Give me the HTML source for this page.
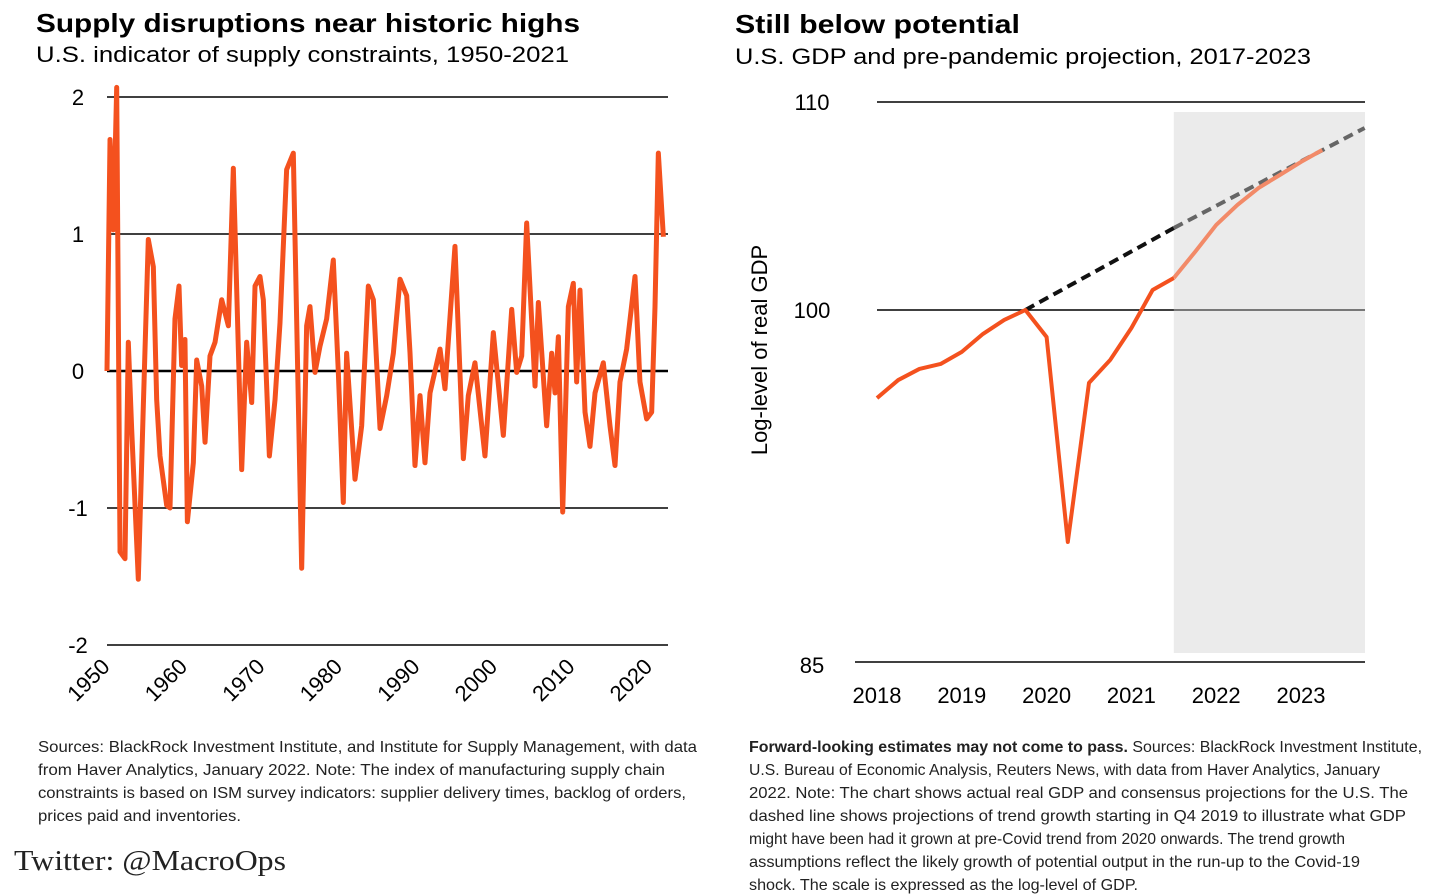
<!DOCTYPE html>
<html><head><meta charset="utf-8"><style>
html,body{margin:0;padding:0;background:#fff;}
svg{display:block;font-family:"Liberation Sans",sans-serif;}
</style></head><body>
<svg id="c" width="1434" height="896" viewBox="0 0 1434 896">
<text x="36" y="32" font-size="26" font-weight="bold" textLength="544" lengthAdjust="spacingAndGlyphs">Supply disruptions near historic highs</text>
<text x="36" y="62" font-size="22" textLength="533" lengthAdjust="spacingAndGlyphs">U.S. indicator of supply constraints, 1950-2021</text>
<text x="735" y="33" font-size="26" font-weight="bold" textLength="285" lengthAdjust="spacingAndGlyphs">Still below potential</text>
<text x="735" y="64" font-size="22" textLength="576" lengthAdjust="spacingAndGlyphs">U.S. GDP and pre-pandemic projection, 2017-2023</text>
<g id="left"></g>
<g id="right"></g>
<g font-size="16" fill="#222">
<text x="38" y="752" textLength="659" lengthAdjust="spacingAndGlyphs">Sources: BlackRock Investment Institute, and Institute for Supply Management, with data</text>
<text x="38" y="775" textLength="627" lengthAdjust="spacingAndGlyphs">from Haver Analytics, January 2022. Note: The index of manufacturing supply chain</text>
<text x="38" y="798" textLength="648" lengthAdjust="spacingAndGlyphs">constraints is based on ISM survey indicators: supplier delivery times, backlog of orders,</text>
<text x="38" y="821" textLength="203" lengthAdjust="spacingAndGlyphs">prices paid and inventories.</text>
</g>
<text x="14" y="870" font-family="Liberation Serif,serif" font-size="29" fill="#222" textLength="272" lengthAdjust="spacingAndGlyphs">Twitter: @MacroOps</text>
<g font-size="16" fill="#222">
<text x="749" y="752" textLength="673" lengthAdjust="spacingAndGlyphs"><tspan font-weight="bold">Forward-looking estimates may not come to pass.</tspan> Sources: BlackRock Investment Institute,</text>
<text x="749" y="775" textLength="631" lengthAdjust="spacingAndGlyphs">U.S. Bureau of Economic Analysis, Reuters News, with data from Haver Analytics, January</text>
<text x="749" y="798" textLength="659" lengthAdjust="spacingAndGlyphs">2022. Note: The chart shows actual real GDP and consensus projections for the U.S. The</text>
<text x="749" y="821" textLength="657" lengthAdjust="spacingAndGlyphs">dashed line shows projections of trend growth starting in Q4 2019 to illustrate what GDP</text>
<text x="749" y="844" textLength="596" lengthAdjust="spacingAndGlyphs">might have been had it grown at pre-Covid trend from 2020 onwards. The trend growth</text>
<text x="749" y="867" textLength="611" lengthAdjust="spacingAndGlyphs">assumptions reflect the likely growth of potential output in the run-up to the Covid-19</text>
<text x="749" y="890" textLength="389" lengthAdjust="spacingAndGlyphs">shock. The scale is expressed as the log-level of GDP.</text>
</g>
</svg>
<script>
const supplyYears=[1950,1950.39,1950.82,1951.25,1951.68,1952.32,1952.75,1953.18,1954.04,1954.69,1955.33,1955.98,1956.41,1956.84,1957.70,1958.13,1958.77,1959.29,1959.63,1960.06,1960.37,1961.14,1961.57,1962.22,1962.65,1963.29,1963.94,1964.80,1965.66,1966.30,1967.38,1968.02,1968.67,1969.10,1969.74,1970.17,1970.95,1971.68,1972.32,1973.18,1974.04,1975.12,1975.76,1976.19,1976.84,1977.48,1978.34,1979.20,1979.85,1980.49,1980.92,1982.0,1982.86,1983.72,1984.37,1985.23,1986.09,1986.95,1987.81,1988.67,1989.10,1989.74,1990.39,1991.03,1991.68,1992.97,1993.61,1994.90,1995.98,1996.62,1997.48,1998.77,1999.85,2001.14,2002.22,2002.86,2003.51,2004.15,2005.23,2005.66,2006.73,2007.38,2007.81,2008.24,2008.80,2009.53,2010.17,2010.60,2011.03,2011.68,2012.32,2012.97,2014.04,2014.90,2015.55,2016.19,2017.05,2018.13,2018.77,2019.63,2020.28,2020.71,2021.14,2021.79];
const supplyValues=[0,1.69,1.03,2.07,-1.32,-1.37,0.21,-0.42,-1.52,-0.25,0.96,0.76,-0.21,-0.62,-0.98,-1.0,0.38,0.62,0.04,0.23,-1.1,-0.67,0.08,-0.11,-0.52,0.11,0.21,0.52,0.33,1.48,-0.72,0.21,-0.23,0.62,0.69,0.52,-0.62,-0.21,0.35,1.47,1.59,-1.44,0.33,0.47,-0.01,0.18,0.38,0.81,-0.01,-0.96,0.13,-0.79,-0.40,0.62,0.52,-0.42,-0.18,0.13,0.67,0.55,0.13,-0.69,-0.18,-0.67,-0.16,0.16,-0.13,0.91,-0.64,-0.18,0.06,-0.62,0.28,-0.47,0.45,-0.01,0.11,1.08,-0.11,0.50,-0.40,0.13,-0.16,0.25,-1.03,0.47,0.64,-0.08,0.59,-0.30,-0.55,-0.16,0.06,-0.40,-0.69,-0.08,0.16,0.69,-0.08,-0.35,-0.30,0.47,1.59,0.98];
const leftYTicks=[2,1,0,-1,-2];
const leftXTicks=[1950,1960,1970,1980,1990,2000,2010,2020];

const gdpQuarters=[2018,2018.25,2018.5,2018.75,2019,2019.25,2019.5,2019.75,2020,2020.25,2020.5,2020.75,2021,2021.25,2021.5];
const gdpActual=[96.28,97.04,97.51,97.72,98.23,98.99,99.58,100,98.86,90.2,96.92,97.89,99.24,100.96,101.54];
const projQuarters=[2021.5,2021.75,2022,2022.25,2022.5,2022.75,2023,2023.25];
const gdpProjection=[101.54,102.79,104.09,105.05,105.87,106.49,107.12,107.69];
const trendYears=[2019.75,2021.5,2023.75];
const trendValues=[100,103.94,108.75];
const rightYTicks=[110,100,85];
const rightXTicks=[2018,2019,2020,2021,2022,2023];

const NS="http://www.w3.org/2000/svg";
function mk(parent,tag,attrs){const e=document.createElementNS(NS,tag);for(const k in attrs)e.setAttribute(k,attrs[k]);parent.appendChild(e);return e;}

// left chart
const L=document.getElementById('left');
const lx=y=>107+(y-1950)*7.75;
const ly=v=>371-v*137;
leftYTicks.forEach(t=>{
  const g=mk(L,'line',{x1:107,x2:668,y1:ly(t),y2:ly(t),stroke:'#000','stroke-width':t===0?2.5:1.5});
  
  
  const tx=mk(L,'text',{x:78,y:ly(t)+8,'font-size':22,'text-anchor':'middle'});
  tx.textContent=String(t);
  
  
});
leftXTicks.forEach(t=>{
  const x=lx(t);
  const tx=mk(L,'text',{x:x+4,y:668,'font-size':22,'text-anchor':'end',transform:`rotate(-45 ${x+4} 668)`});
  tx.textContent=String(t);
  
  
});
const lp=mk(L,'polyline',{points:supplyYears.map((y,i)=>lx(y)+','+ly(supplyValues[i])).join(' '),fill:'none',stroke:'#f4511e','stroke-width':5,'stroke-linejoin':'round'});



// right chart
const R=document.getElementById('right');
const rx=y=>877+(y-2018)*84.8;
const ry=v=>v>=100?310-(v-100)*20.8:310+(100-v)*23.67;
const sh=mk(R,'rect',{x:rx(2021.5),y:112,width:1365-rx(2021.5),height:541,fill:'#ebebeb'});


rightYTicks.forEach(t=>{
  const g=mk(R,'line',{x1:t===85?855:877,x2:1365,y1:t===85?662:ry(t),y2:t===85?662:ry(t),stroke:'#000','stroke-width':1.5});
  
  
  const tx=mk(R,'text',{x:812,y:(t===85?665:ry(t))+8,'font-size':22,'text-anchor':'middle'});
  tx.textContent=String(t);
  
  
});
const ov=mk(R,'rect',{x:rx(2021.5),y:309,width:1365-rx(2021.5),height:2,fill:'#777'});


rightXTicks.forEach(t=>{
  const tx=mk(R,'text',{x:rx(t),y:703,'font-size':22,'text-anchor':'middle'});
  tx.textContent=String(t);
  
  
});
const yt=mk(R,'text',{x:767,y:350,'font-size':22,'text-anchor':'middle',transform:'rotate(-90 767 350)'});
yt.textContent='Log-level of real GDP';


const t1=mk(R,'line',{x1:rx(trendYears[0]),y1:ry(trendValues[0]),x2:rx(trendYears[1]),y2:ry(trendValues[1]),stroke:'#111','stroke-width':4,'stroke-dasharray':'10 6'});


const t2=mk(R,'line',{x1:rx(trendYears[1]),y1:ry(trendValues[1]),x2:rx(trendYears[2]),y2:ry(trendValues[2]),stroke:'#666','stroke-width':4,'stroke-dasharray':'10 6'});


const pp=mk(R,'polyline',{points:projQuarters.map((y,i)=>rx(y)+','+ry(gdpProjection[i])).join(' '),fill:'none',stroke:'#f28a68','stroke-width':4,'stroke-linejoin':'round'});


const ap=mk(R,'polyline',{points:gdpQuarters.map((y,i)=>rx(y)+','+ry(gdpActual[i])).join(' '),fill:'none',stroke:'#f4511e','stroke-width':4,'stroke-linejoin':'round'});


</script>
</body></html>
